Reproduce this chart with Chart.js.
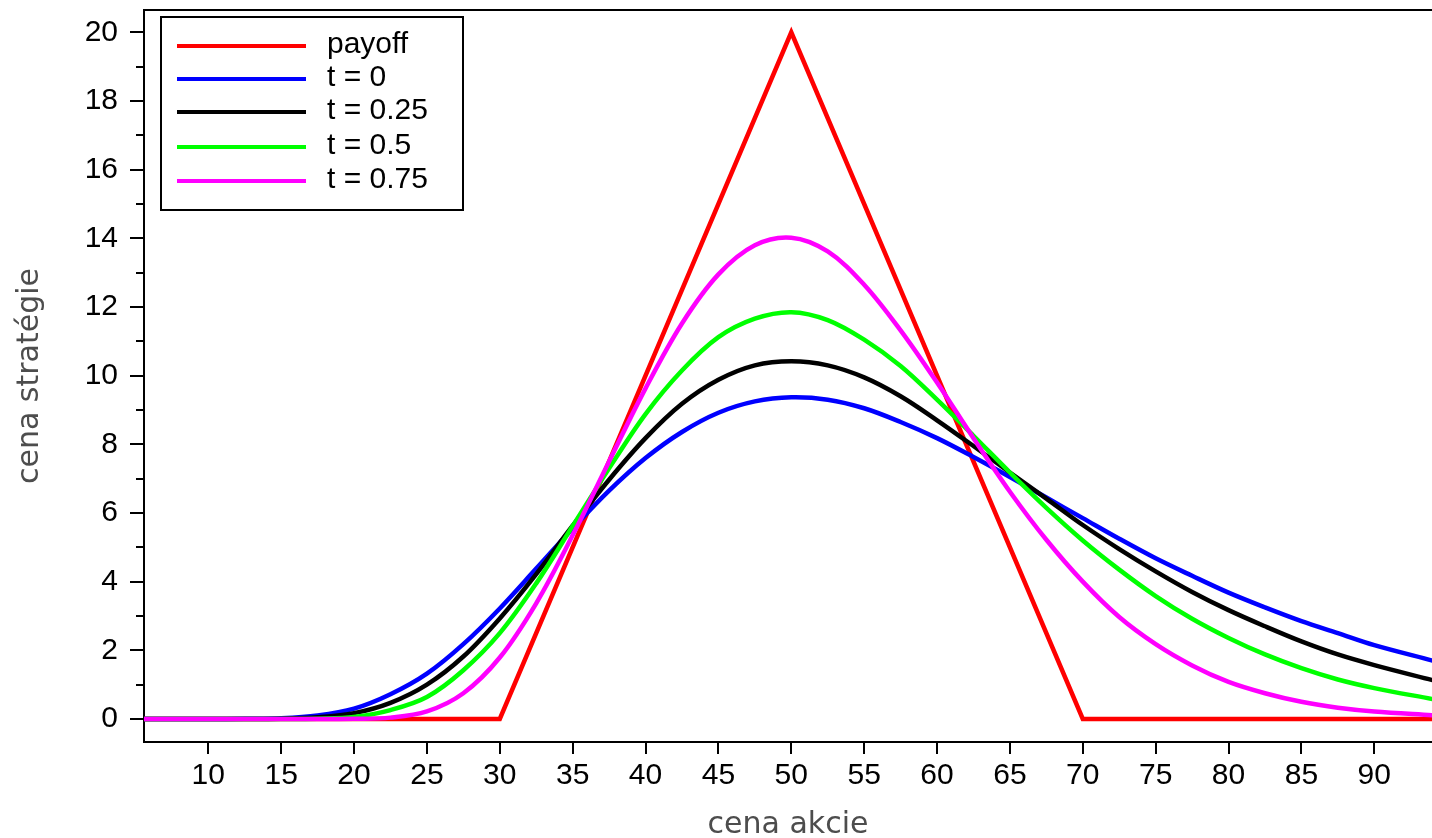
<!DOCTYPE html>
<html>
<head>
<meta charset="utf-8">
<script src="https://cdn.jsdelivr.net/npm/chart.js@4.4.1/dist/chart.umd.min.js"></script>
<style>
	html, body { margin: 0; padding: 0; background: #fff; overflow: hidden; }
	#wrap { position: relative; width: 1432px; height: 838px; }
</style>
</head>
<body>
<div id="wrap"><canvas id="strategyChart"></canvas></div>
<script>
// cena akcie - spoločná os pre krivky
const stockPrices = [5.59, 10, 12.5, 15, 17.5, 20, 22.5, 25, 27.5, 30, 32.5, 35, 37.5, 40, 42.5, 45, 47.5, 50,
	52.5, 55, 57.5, 60, 62.5, 65, 67.5, 70, 72.5, 75, 77.5, 80, 82.5, 85, 87.5, 90, 94]

// cena stratégie v čase t (odčítané z obrázka)
const valueT0 = [0, 0, 0.005, 0.02, 0.1, 0.3, 0.72, 1.32, 2.18, 3.22, 4.38, 5.55, 6.65, 7.6, 8.36, 8.92, 9.25, 9.37,
	9.3, 9.05, 8.65, 8.18, 7.63, 7.05, 6.45, 5.85, 5.25, 4.68, 4.17, 3.68, 3.25, 2.85, 2.5, 2.15, 1.7]
const valueT025 = [0, 0, 0, 0.01, 0.05, 0.17, 0.47, 1.0, 1.82, 2.93, 4.22, 5.63, 6.97, 8.18, 9.18, 9.88, 10.3, 10.42,
	10.3, 9.95, 9.4, 8.7, 7.95, 7.18, 6.42, 5.65, 4.95, 4.3, 3.7, 3.17, 2.7, 2.26, 1.88, 1.57, 1.13]
const valueT05 = [0, 0, 0, 0, 0.01, 0.06, 0.26, 0.64, 1.42, 2.5, 3.95, 5.62, 7.3, 8.88, 10.15, 11.12, 11.66, 11.85,
	11.62, 11.05, 10.28, 9.3, 8.25, 7.18, 6.15, 5.2, 4.35, 3.58, 2.92, 2.36, 1.88, 1.48, 1.15, 0.9, 0.58]
const valueT075 = [0, 0, 0, 0, 0, 0.004, 0.04, 0.22, 0.75, 1.79, 3.37, 5.35, 7.5, 9.63, 11.52, 12.95, 13.8, 14.02,
	13.62, 12.65, 11.32, 9.8, 8.18, 6.62, 5.22, 4.0, 2.97, 2.18, 1.56, 1.08, 0.75, 0.5, 0.33, 0.22, 0.11]

// payoff - lomená čiara
const payoffX = [5.59, 30, 50, 70, 94]
const payoffY = [0, 0, 20, 0, 0]

// osi
const xTicks = [10, 15, 20, 25, 30, 35, 40, 45, 50, 55, 60, 65, 70, 75, 80, 85, 90]
const yTicks = [0, 2, 4, 6, 8, 10, 12, 14, 16, 18, 20]
const yMinorTicks = [1, 3, 5, 7, 9, 11, 13, 15, 17, 19]

const toPoints = (xs, ys) => xs.map((x, i) => ({ x: x, y: ys[i] }))

function curve(label, values, color, order) {
	return {
		label: label,
		data: toPoints(stockPrices, values),
		borderColor: color,
		borderWidth: 4.5,
		pointRadius: 0,
		tension: 0.35,
		fill: false,
		order: order,
	}
}

// vlastná legenda v rohu + horný okraj + vedľajšie značky na osi y
const framePlugin = {
	id: 'frame',
	afterDraw(chart) {
		const ctx = chart.ctx
		const area = chart.chartArea
		const y = chart.scales.y
		ctx.save()
		ctx.strokeStyle = '#000'
		ctx.lineWidth = 2
		ctx.beginPath()
		ctx.moveTo(area.left, area.top)
		ctx.lineTo(area.right, area.top)
		yMinorTicks.forEach(v => {
			const py = Math.round(y.getPixelForValue(v))
			ctx.moveTo(area.left - 8, py)
			ctx.lineTo(area.left, py)
		})
		ctx.stroke()

		const bx = area.left + 17, by = area.top + 7, bw = 302, bh = 193
		ctx.fillStyle = '#fff'
		ctx.fillRect(bx, by, bw, bh)
		ctx.strokeRect(bx, by, bw, bh)
		ctx.font = '30px "Liberation Sans"'
		ctx.textBaseline = 'middle'
		ctx.textAlign = 'left'
		const rows = [36, 69, 102, 137, 171]
		chart.data.datasets.forEach((ds, i) => {
			const ry = area.top + rows[i]
			ctx.strokeStyle = ds.borderColor
			ctx.lineWidth = 4
			ctx.beginPath()
			ctx.moveTo(bx + 16, ry)
			ctx.lineTo(bx + 145, ry)
			ctx.stroke()
			ctx.fillStyle = '#000'
			ctx.fillText(ds.label, bx + 166, ry - 1)
		})
		ctx.restore()
	},
}

const ctx = document.getElementById('strategyChart').getContext('2d')
const strategyChart = new Chart(ctx, {
	type: 'line',
	data: {
		datasets: [
			{
				label: 'payoff',
				data: toPoints(payoffX, payoffY),
				borderColor: '#ff0000',
				borderWidth: 4.5,
				pointRadius: 0,
				tension: 0,
				fill: false,
				order: 5,
			},
			curve('t = 0', valueT0, '#0000ff', 4),
			curve('t = 0.25', valueT025, '#000000', 3),
			curve('t = 0.5', valueT05, '#00ff00', 2),
			curve('t = 0.75', valueT075, '#ff00ff', 1),
		],
	},
	options: {
		responsive: true,
		maintainAspectRatio: false,
		animation: false,
		layout: { padding: { top: 10, left: 0, right: 0, bottom: 0 } },
		plugins: { legend: { display: false }, tooltip: { enabled: false } },
		scales: {
			x: {
				type: 'linear',
				min: 5.59,
				max: 93.96,
				afterBuildTicks: scale => { scale.ticks = xTicks.map(v => ({ value: v })) },
				afterFit: scale => {
					scale.height = 96
					scale.paddingLeft = 0
					scale.paddingRight = 0
				},
				grid: { drawOnChartArea: false, drawTicks: true, tickLength: 12, tickColor: '#000', lineWidth: 2 },
				border: { display: true, color: '#000', width: 2 },
				ticks: {
					autoSkip: false,
					maxRotation: 0,
					padding: 4,
					color: '#000',
					font: { family: 'Liberation Sans', size: 30 },
				},
				title: {
					display: true,
					text: 'cena akcie',
					color: '#4d4d4d',
					font: { family: 'DejaVu Sans', size: 30, lineHeight: 1 },
					padding: { top: 0, bottom: -2 },
				},
			},
			y: {
				type: 'linear',
				min: -0.67,
				max: 20.65,
				afterBuildTicks: scale => { scale.ticks = yTicks.map(v => ({ value: v })) },
				afterFit: scale => {
					scale.width = 144
					scale.paddingTop = 0
					scale.paddingBottom = 0
				},
				grid: { drawOnChartArea: false, drawTicks: true, tickLength: 14, tickColor: '#000', lineWidth: 2 },
				border: { display: true, color: '#000', width: 2 },
				ticks: {
					autoSkip: false,
					padding: 12,
					color: '#000',
					font: { family: 'Liberation Sans', size: 30 },
				},
				title: {
					display: true,
					text: 'cena stratégie',
					color: '#4d4d4d',
					font: { family: 'DejaVu Sans', size: 30, lineHeight: 1.2 },
					padding: { top: 12, bottom: 0 },
				},
			},
		},
	},
	plugins: [framePlugin],
})
</script>
</body>
</html>
